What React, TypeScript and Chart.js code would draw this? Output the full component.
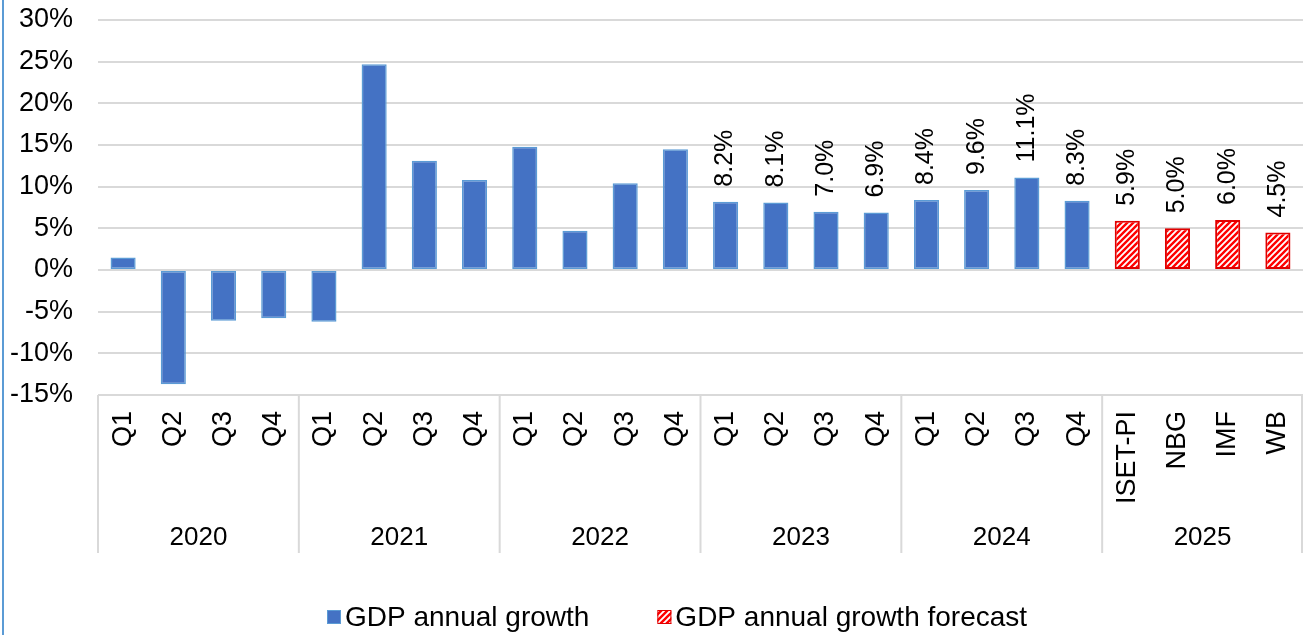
import React, { useEffect, useRef } from "react";
import { Chart, registerables } from "chart.js";

Chart.register(...registerables);

const quarterLabels: string[] = [
  "Q1", "Q2", "Q3", "Q4",
  "Q1", "Q2", "Q3", "Q4",
  "Q1", "Q2", "Q3", "Q4",
  "Q1", "Q2", "Q3", "Q4",
  "Q1", "Q2", "Q3", "Q4",
  "ISET-PI", "NBG", "IMF", "WB",
];

const yearLabels: string[] = ["2020", "2021", "2022", "2023", "2024", "2025"];

const gdpGrowth: (number | null)[] = [
  1.5, -13.7, -6.1, -5.8,
  -6.2, 24.7, 13.1, 10.8,
  14.8, 4.7, 10.4, 14.5,
  8.2, 8.1, 7.0, 6.9,
  8.4, 9.6, 11.1, 8.3,
  null, null, null, null,
];

const gdpForecast: (number | null)[] = [
  null, null, null, null,
  null, null, null, null,
  null, null, null, null,
  null, null, null, null,
  null, null, null, null,
  5.9, 5.0, 6.0, 4.5,
];

const seriesNames: string[] = ["GDP annual growth", "GDP annual growth forecast"];

const yTicks = { min: -15, max: 30, step: 5 };
const firstLabeledIndex = 12;

const FONT = "'Liberation Sans', Arial, sans-serif";

function makeHatch(): CanvasPattern | string {
  const c = document.createElement("canvas");
  const s = 6;
  c.width = s;
  c.height = s;
  const g = c.getContext("2d");
  if (!g) return "#ff0000";
  g.fillStyle = "#ffffff";
  g.fillRect(0, 0, s, s);
  g.strokeStyle = "#ff0000";
  g.lineWidth = 2.4;
  g.beginPath();
  g.moveTo(-1, s + 1);
  g.lineTo(s + 1, -1);
  g.moveTo(-s / 2 - 1, s / 2 + 1);
  g.lineTo(s / 2 + 1, -s / 2 - 1);
  g.moveTo(s / 2 - 1, s * 1.5 + 1);
  g.lineTo(s * 1.5 + 1, s / 2 - 1);
  g.stroke();
  const p = g.createPattern(c, "repeat");
  return p || "#ff0000";
}

export default function App() {
  const canvasRef = useRef<HTMLCanvasElement | null>(null);

  useEffect(() => {
    document.body.style.margin = "0";
    const canvas = canvasRef.current;
    if (!canvas) return;
    const hatch = makeHatch();

    const frameLine = {
      id: "frameLine",
      beforeDraw(chart: any) {
        const ctx = chart.ctx;
        ctx.save();
        ctx.fillStyle = "#ffffff";
        ctx.fillRect(0, 0, chart.width, chart.height);
        ctx.strokeStyle = "#5b9bd5";
        ctx.lineWidth = 2;
        ctx.beginPath();
        ctx.moveTo(3, 0);
        ctx.lineTo(3, chart.height);
        ctx.stroke();
        ctx.restore();
      },
    };

    const valueLabels = {
      id: "valueLabels",
      afterDatasetsDraw(chart: any) {
        const ctx = chart.ctx;
        ctx.save();
        ctx.fillStyle = "#000000";
        ctx.font = `25px ${FONT}`;
        ctx.textAlign = "left";
        ctx.textBaseline = "middle";
        chart.data.datasets.forEach((ds: any, di: number) => {
          const meta = chart.getDatasetMeta(di);
          meta.data.forEach((el: any, i: number) => {
            const v = ds.data[i];
            if (v === null || v === undefined || i < firstLabeledIndex) return;
            ctx.save();
            ctx.translate(el.x, el.y - 15);
            ctx.rotate(-Math.PI / 2);
            ctx.fillText(`${v.toFixed(1)}%`, 0, 0);
            ctx.restore();
          });
        });
        ctx.restore();
      },
    };

    const categoryAxis = {
      id: "categoryAxis",
      afterDraw(chart: any) {
        const ctx = chart.ctx;
        const xs = chart.scales.x;
        const ca = chart.chartArea;
        const step = xs.getPixelForValue(1) - xs.getPixelForValue(0);
        const perGroup = quarterLabels.length / yearLabels.length;
        ctx.save();
        // separators
        ctx.strokeStyle = "#d9d9d9";
        ctx.lineWidth = 2;
        ctx.beginPath();
        for (let g = 0; g <= yearLabels.length; g++) {
          let px = xs.getPixelForValue(g * perGroup) - step / 2;
          if (g === yearLabels.length) px = Math.min(px, chart.width - 1);
          ctx.moveTo(px, ca.bottom);
          ctx.lineTo(px, ca.bottom + 158);
        }
        ctx.stroke();
        // quarter labels
        ctx.fillStyle = "#000000";
        ctx.font = `27px ${FONT}`;
        ctx.textAlign = "right";
        ctx.textBaseline = "middle";
        quarterLabels.forEach((lab, i) => {
          const px = xs.getPixelForValue(i);
          ctx.save();
          ctx.translate(px, ca.bottom + 16);
          ctx.rotate(-Math.PI / 2);
          ctx.fillText(lab, 0, 0);
          ctx.restore();
        });
        // year labels
        ctx.font = `26px ${FONT}`;
        ctx.textAlign = "center";
        ctx.textBaseline = "middle";
        yearLabels.forEach((lab, g) => {
          const a = xs.getPixelForValue(g * perGroup);
          const b = xs.getPixelForValue(g * perGroup + perGroup - 1);
          ctx.fillText(lab, (a + b) / 2, ca.bottom + 143);
        });
        ctx.restore();
      },
    };

    const customLegend = {
      id: "customLegend",
      afterDraw(chart: any) {
        const ctx = chart.ctx;
        const dss = chart.data.datasets;
        ctx.save();
        ctx.font = `28px ${FONT}`;
        ctx.textBaseline = "middle";
        ctx.textAlign = "left";
        const box = 14;
        const gapBoxText = 4;
        const gapItems = 68;
        const cy = 617;
        let x = 327;
        dss.forEach((ds: any) => {
          ctx.fillStyle = ds.backgroundColor;
          ctx.fillRect(x, cy - box / 2, box, box);
          ctx.strokeStyle = ds.borderColor;
          ctx.lineWidth = 1;
          ctx.strokeRect(x + 0.5, cy - box / 2 + 0.5, box - 1, box - 1);
          x += box + gapBoxText;
          ctx.fillStyle = "#000000";
          ctx.fillText(ds.label, x, cy + 1);
          x += ctx.measureText(ds.label).width + gapItems;
        });
        ctx.restore();
      },
    };

    const chart = new Chart(canvas, {
      type: "bar",
      data: {
        labels: quarterLabels,
        datasets: [
          {
            label: seriesNames[0],
            data: gdpGrowth,
            backgroundColor: "#4472c4",
            borderColor: "#5b9bd5",
            borderWidth: 1.5,
            borderSkipped: false,
            grouped: false,
            barPercentage: 0.5,
            categoryPercentage: 1,
          } as any,
          {
            label: seriesNames[1],
            data: gdpForecast,
            backgroundColor: hatch as any,
            borderColor: "#e00000",
            borderWidth: 2,
            borderSkipped: false,
            grouped: false,
            barPercentage: 0.5,
            categoryPercentage: 1,
          } as any,
        ],
      },
      options: {
        animation: false,
        responsive: true,
        maintainAspectRatio: false,
        layout: { padding: { top: 20, bottom: 240, left: 0, right: 0 } },
        plugins: {
          legend: { display: false },
          tooltip: { enabled: false },
        },
        scales: {
          x: { display: false },
          y: {
            min: yTicks.min,
            max: yTicks.max,
            afterFit: (scale: any) => {
              scale.width = 98;
              scale.paddingTop = 0;
              scale.paddingBottom = 0;
            },
            ticks: {
              stepSize: yTicks.step,
              padding: 25,
              color: "#000000",
              font: { family: FONT, size: 27 },
              callback: (v: any) => `${v}%`,
            },
            grid: {
              color: "#d9d9d9",
              lineWidth: 2,
              drawTicks: false,
            },
            border: { display: false },
          },
        },
      },
      plugins: [frameLine, valueLabels, categoryAxis, customLegend],
    });

    return () => chart.destroy();
  }, []);

  return (
    <div style={{ width: 1303, height: 635, position: "relative" }}>
      <canvas ref={canvasRef} />
    </div>
  );
}
